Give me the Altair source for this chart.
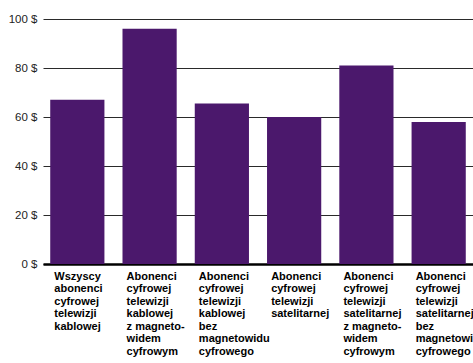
import altair as alt
import pandas as pd

categories = [
    "Wszyscy|abonenci|cyfrowej|telewizji|kablowej",
    "Abonenci|cyfrowej|telewizji|kablowej|z magneto-|widem|cyfrowym",
    "Abonenci|cyfrowej|telewizji|kablowej|bez|magnetowidu|cyfrowego",
    "Abonenci|cyfrowej|telewizji|satelitarnej",
    "Abonenci|cyfrowej|telewizji|satelitarnej|z magneto-|widem|cyfrowym",
    "Abonenci|cyfrowej|telewizji|satelitarnej|bez|magnetowidu|cyfrowego",
]
values = [67, 96, 65.5, 60, 81, 58]
y_ticks = [0, 20, 40, 60, 80, 100]

df = pd.DataFrame({"cat": categories, "val": values})

font = "Liberation Sans, Arial"

bars = alt.Chart(df).mark_bar(color="#4B186C").encode(
    x=alt.X(
        "cat:N",
        sort=categories,
        title=None,
        scale=alt.Scale(paddingInner=0.25, paddingOuter=0.1),
        axis=alt.Axis(
            labelExpr="split(datum.label, '|')",
            labelAngle=0,
            labelAlign="left",
            labelBaseline="top",
            labelOffset=-23,
            labelPadding=6,
            labelLineHeight=12.5,
            labelFont=font,
            labelFontSize=11,
            labelFontWeight="bold",
            labelColor="#000000",
            labelLimit=0,
            ticks=False,
            domain=True,
            domainColor="#000000",
            domainWidth=2.5,
            grid=False,
        ),
    ),
    y=alt.Y(
        "val:Q",
        title=None,
        scale=alt.Scale(domain=[0, 100], nice=False),
        axis=alt.Axis(
            values=y_ticks,
            labelExpr="datum.value + ' $'",
            labelFont=font,
            labelFontSize=11.5,
            labelColor="#222222",
            labelPadding=6,
            ticks=False,
            domain=False,
            grid=True,
            gridColor="#2a2a2a",
            gridWidth=1.2,
        ),
    ),
)

chart = bars.properties(
    width=430,
    height=245,
    autosize="none",
    padding={"left": 43, "top": 19, "right": 0, "bottom": 99},
).configure_view(stroke=None).configure_axis(zindex=0)

chart.save("out.html", embed_options={"renderer": "svg", "actions": False})
